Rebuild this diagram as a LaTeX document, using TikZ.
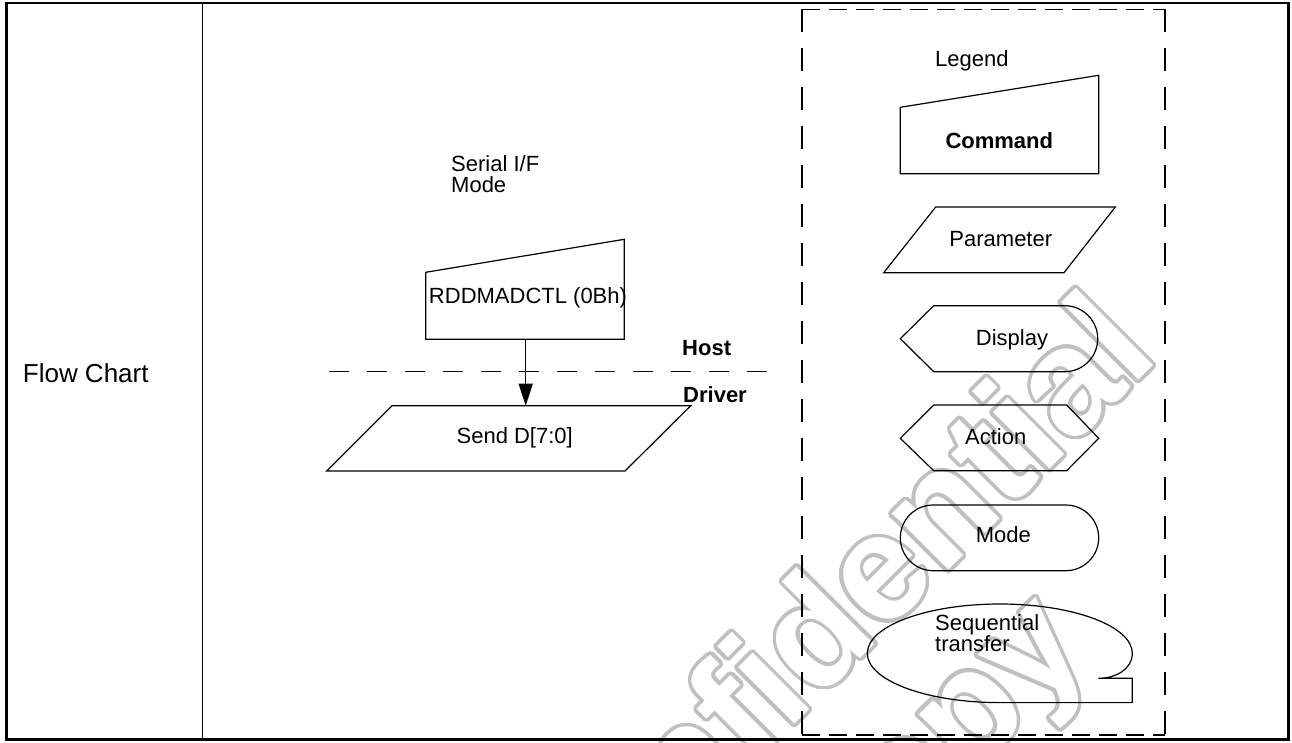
\documentclass[tikz,border=0pt]{standalone}
\usepackage{fontspec}
\setmainfont{Liberation Sans}
\usepackage{contour}
\usetikzlibrary{arrows.meta}
\definecolor{wmgray}{RGB}{192,192,192}
\contourlength{3.5pt}
\contournumber{24}
\begin{document}
\begin{tikzpicture}[x=1pt,y=-1pt,
  shp/.style={draw=black, line width=1.2pt, line join=miter},
  lbl/.style={font=\fontsize{22}{21}\selectfont, inner sep=0pt, text=black},
  hdline/.style={line width=1.2pt, dash pattern=on 20pt off 18pt},
  vdline/.style={line width=1.2pt, dash pattern=on 23pt off 16pt},
  wm/.style={font=\fontsize{151}{151}\selectfont\bfseries, inner sep=0pt, rotate=45},
  frame/.style={line width=2.6pt, line cap=rect},
  divider/.style={line width=1.5pt}
]
\useasboundingbox (0,0) rectangle (1292,742);

% watermark
\begin{scope}
\clip (0,0) rectangle (1292,742);
\node[wm, anchor=base east] (wm1) at (1161,358) {\color{white}\contour{wmgray}{Confidential}};
\node[wm, anchor=base] (wm2) at (968,778) {\color{white}\contour{wmgray}{copy}};
\end{scope}

% left column label
\node[lbl, font=\fontsize{26}{26}\selectfont, anchor=base west] (fc) at (22.7,382.7) {Flow Chart};

% main flow
\node[lbl, anchor=base west, align=left] (serial) at (451,192) {Serial I/F\\Mode};
\draw[shp] (425.7,272.3) -- (624.3,239.3) -- (624.3,339.3) -- (425.7,339.3) -- cycle;
\node[lbl, anchor=base] (cmd) at (528,303) {RDDMADCTL (0Bh)};
\coordinate (cmdB) at (525.7,339.3);

\draw[hdline] (329,371.7) -- (783.4,371.7);
\node[lbl, font=\fontsize{22}{21}\selectfont\bfseries, anchor=base west] (host) at (682,355.5) {Host};
\node[lbl, font=\fontsize{22}{21}\selectfont\bfseries, anchor=base west] (drv) at (683,402.5) {Driver};

\draw[shp] (392,405.7) -- (690.7,405.7) -- (625,471) -- (326.7,471) -- cycle;
\node[lbl, anchor=base] (send) at (514.7,443.3) {Send D[7:0]};
\coordinate (sendT) at (525.7,405.7);
\draw[line width=1.3pt, -{Triangle[length=22pt,width=14pt]}] (cmdB) -- (sendT);

% legend box
\draw[vdline] (802,9.3) -- (802,735);
\draw[vdline] (1165,9.3) -- (1165,735);
\draw[line width=1.2pt, dash pattern=on 18pt off 9pt] (802,9.3) -- (1165,9.3);
\draw[line width=1.2pt, dash pattern=on 18pt off 9pt] (802,735) -- (1165,735);

\node[lbl, anchor=base west] (leg) at (935,66.7) {Legend};

% command
\draw[shp] (900.3,107.3) -- (1098.7,75.3) -- (1098.7,173.7) -- (900.3,173.7) -- cycle;
\node[lbl, font=\fontsize{22}{21}\selectfont\bfseries, anchor=base] (lcmd) at (999.3,148.3) {Command};

% parameter
\draw[shp] (935.7,207) -- (1115.3,207) -- (1064,272.7) -- (883.7,272.7) -- cycle;
\node[lbl, anchor=base] (lpar) at (1000.8,246) {Parameter};

% display
\draw[shp] (900.3,338.7) -- (933.7,305.7) -- (1064.7,305.7)
  .. controls (1082.9,305.7) and (1097.7,320.5) .. (1097.7,338.7)
  .. controls (1097.7,356.9) and (1082.9,371.7) .. (1064.7,371.7)
  -- (933.7,371.7) -- cycle;
\node[lbl, anchor=base] (ldisp) at (1012,345) {Display};

% action
\draw[shp] (900.3,438.3) -- (933.7,405) -- (1066.7,405) -- (1098.7,438.3) -- (1066.7,470.7) -- (933.7,470.7) -- cycle;
\node[lbl, anchor=base] (lact) at (995.7,444) {Action};

% mode
\draw[shp] (933.2,505) -- (1065.8,505)
  .. controls (1083.9,505) and (1098.7,519.7) .. (1098.7,537.85)
  .. controls (1098.7,556) and (1083.9,570.7) .. (1065.8,570.7)
  -- (933.2,570.7)
  .. controls (915.1,570.7) and (900.3,556) .. (900.3,537.85)
  .. controls (900.3,519.7) and (915.1,505) .. (933.2,505) -- cycle;
\node[lbl, anchor=base] (lmode) at (1003.3,542.7) {Mode};

% sequential transfer
\draw[shp] (999.8,702.6)
  .. controls (926.6,702.6) and (867.3,680.5) .. (867.3,653.3)
  .. controls (867.3,626.1) and (926.6,604) .. (999.8,604)
  .. controls (1073,604) and (1132.3,626.1) .. (1132.3,653.3)
  .. controls (1132.3,669) and (1116,678.3) .. (1098.3,678.3)
  -- (1132.3,678.3) -- (1132.3,702.6) -- cycle;
\node[lbl, anchor=base west, align=left] (lseq) at (935,651) {Sequential\\transfer};

% table frame
\draw[frame] (6.5,3) rectangle (1288.5,739.5);
\draw[divider] (202.3,3) -- (202.3,739.5);
\end{tikzpicture}
\end{document}
